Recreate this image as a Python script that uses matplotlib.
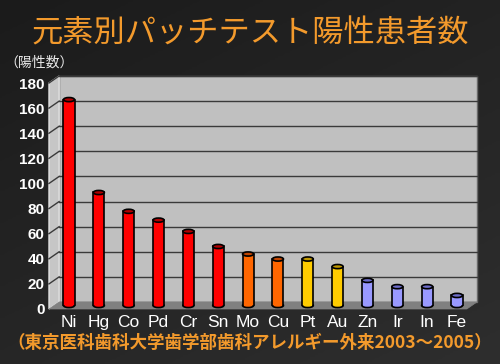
import numpy as np
import matplotlib
matplotlib.use('Agg')
import matplotlib.pyplot as plt
from matplotlib.patches import Rectangle, Ellipse, Polygon

plt.rcParams['font.family'] = ['Noto Sans CJK JP', 'DejaVu Sans']

# data
elements = ['Ni', 'Hg', 'Co', 'Pd', 'Cr', 'Sn', 'Mo', 'Cu', 'Pt', 'Au', 'Zn', 'Ir', 'In', 'Fe']
positives = [164, 90, 75, 68, 59, 47, 41, 37, 37, 31, 20, 15, 15, 8]
groups = ['red'] * 6 + ['orange'] * 2 + ['yellow'] * 2 + ['blue'] * 4
yticks = list(range(0, 181, 20))

body = {'red': '#ff0000', 'orange': '#ff6600', 'yellow': '#ffcc00', 'blue': '#9999ff'}
cap = {'red': '#b00000', 'orange': '#c04400', 'yellow': '#c09800', 'blue': '#6c6cc8'}

fig = plt.figure(figsize=(5, 3.64), dpi=100)

# dark gradient background
bg = fig.add_axes([0, 0, 1, 1])
gx, gy = np.meshgrid(np.linspace(0, 1, 200), np.linspace(0, 1, 200))
bg.imshow(0.6 * gy + 0.4 * gx, cmap=matplotlib.colors.LinearSegmentedColormap.from_list(
    'bg', ['#1b1b1b', '#2e2e2e']), aspect='auto', extent=[0, 1, 0, 1], origin='upper')
bg.axis('off')

ax = fig.add_axes([49 / 500, 55 / 364, 428 / 500, 232 / 364])
ax.set_facecolor('none')
n = len(elements)
DX, DY = 0.34, 5.6     # fake 3D depth
ax.set_xlim(-0.5, n - 0.5 + DX)
ax.set_ylim(0, 184.8)

# walls and floor
ax.add_patch(Rectangle((-0.5 + DX, DY), n, 180, facecolor='#c0c0c0', edgecolor='#6a6a6a', lw=1, zorder=0, clip_on=False))
ax.add_patch(Polygon([(-0.5, 0), (-0.5 + DX, DY), (-0.5 + DX, 180 + DY), (-0.5, 180)],
                     facecolor='#c6c6c6', edgecolor='#e4e4e4', lw=1, zorder=0, clip_on=False))
ax.add_patch(Polygon([(-0.5, 0), (n - 0.5, 0), (n - 0.5 + DX, DY), (-0.5 + DX, DY)],
                     facecolor='#808080', edgecolor='#808080', lw=0.5, zorder=1, clip_on=False))

for t in yticks[1:]:
    ax.plot([-0.5 + DX, n - 0.5 + DX], [t + DY, t + DY], color='#3a3a3a', lw=1, zorder=1, clip_on=False)
    ax.plot([-0.5, -0.5 + DX], [t, t + DY], color='#3a3a3a', lw=1, zorder=1, clip_on=False)

# cylinders
w, eh = 0.37, 3.3
for i, (v, g) in enumerate(zip(positives, groups)):
    c = i + DX / 2
    b = DY / 2
    ax.add_patch(Ellipse((c, b), w, eh, facecolor=body[g], edgecolor='black', lw=1.2, zorder=3))
    ax.add_patch(Rectangle((c - w / 2, b), w, v, facecolor=body[g], edgecolor='none', zorder=4))
    ax.plot([c - w / 2, c - w / 2], [b, b + v], color='black', lw=1.2, zorder=4.5)
    ax.plot([c + w / 2, c + w / 2], [b, b + v], color='black', lw=1.2, zorder=4.5)
    ax.add_patch(Ellipse((c, b + v), w, eh, facecolor=cap[g], edgecolor='black', lw=1.2, zorder=5))

for s in ax.spines.values():
    s.set_visible(False)
ax.set_yticks(yticks)
ax.set_yticklabels([str(t) for t in yticks], color='white', fontsize=11,
                   fontweight='bold', family=['Liberation Sans'])
ax.set_xticks([i + DX / 2 for i in range(n)])
ax.set_xticklabels(elements, color='white', fontsize=12.5, family=['Liberation Sans'])
ax.tick_params(axis='y', length=0, pad=3)
ax.tick_params(axis='x', length=0, pad=4)

fig.text(0.5, 1 - 34 / 364, '元素別パッチテスト陽性患者数', color='#f39a2c',
         fontsize=22.5, ha='center', va='center')
fig.text(4 / 500, 1 - 63 / 364, '（陽性数）', color='#e8e8e8', fontsize=10, ha='left', va='center')
fig.text(0.5, 1 - 343 / 364, '（東京医科歯科大学歯学部歯科アレルギー外来2003～2005）',
         color='#f39a2c', fontsize=12.6, fontweight='bold', ha='center', va='center')

fig.savefig('out.png', dpi=100, facecolor='#222222')
